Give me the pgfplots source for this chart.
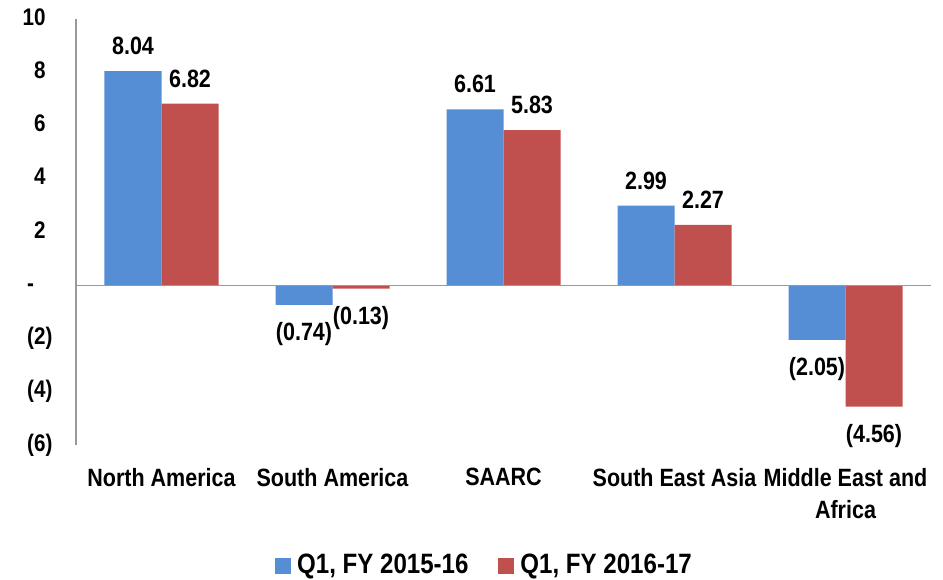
\documentclass[border=0pt]{standalone}
\usepackage{fontspec}
\setmainfont{Liberation Sans}[FakeStretch=0.86]
\usepackage{pgfplots}
\pgfplotsset{compat=1.18}
\definecolor{cblue}{RGB}{85,142,213}
\definecolor{cred}{RGB}{192,80,77}
\begin{document}
\fontsize{25pt}{30pt}\selectfont\bfseries
\begin{tikzpicture}
\path[use as bounding box] (-76pt,-135pt) rectangle (867pt,445pt);
\begin{axis}[
  at={(0pt,0pt)}, anchor=south west,
  scale only axis, width=855pt, height=426pt,
  xmin=-0.5, xmax=4.5, ymin=-6, ymax=10,
  ybar=0pt, bar width=57pt,
  axis lines*=left,
  y axis line style={draw=gray!80, line width=1.2pt, -},
  x axis line style={draw=none},
  xtick={0,1,2,3,4},
  xticklabels={North America, South America, SAARC, South East Asia, {Middle East and\\Africa}},
  xticklabel style={font=\fontsize{25pt}{32pt}\selectfont\bfseries, align=center, anchor=north, yshift=-15pt},
  ytick={-6,-4,-2,0,2,4,6,8,10},
  yticklabels={(6),(4),(2),{-\phantom{0)}},{2\phantom{)}},{4\phantom{)}},{6\phantom{)}},{8\phantom{)}},{10\phantom{)}}},
  major tick length=0pt,
  yticklabel style={font=\fontsize{24pt}{28pt}\selectfont\bfseries, anchor=east, xshift=-15pt},
  point meta=explicit symbolic,
  visualization depends on={ifthenelse(y<0,-29,25) \as \lblshift},
  nodes near coords={\pgfplotspointmeta},
  nodes near coords style={font=\fontsize{25pt}{30pt}\selectfont\bfseries, black, anchor=center, inner sep=0pt},
  every node near coord/.append style={yshift=\lblshift pt},
  legend style={at={(axis description cs:0.5,0)}, anchor=center, yshift=-121pt, xshift=-19pt,
    draw=none, fill=none, legend columns=2, font=\fontsize{28pt}{32pt}\selectfont\bfseries,
    /tikz/every odd column/.append style={column sep=4pt},
    /tikz/every even column/.append style={column sep=28pt}},
  legend image code/.code={\fill[#1,draw=none] (0pt,-8pt) rectangle (16pt,8pt);},
  clip=false,
]
\addplot[fill=cblue, draw=none] coordinates {
  (0,8.04) [8.04]
  (1,-0.74) [(0.74)]
  (2,6.61) [6.61]
  (3,2.99) [2.99]
  (4,-2.05) [(2.05)]
};
\addplot[fill=cred, draw=none] coordinates {
  (0,6.82) [6.82]
  (1,-0.13) [(0.13)]
  (2,5.83) [5.83]
  (3,2.27) [2.27]
  (4,-4.56) [(4.56)]
};
\legend{{Q1, FY 2015-16}, {Q1, FY 2016-17}}
\draw[gray!80, line width=1.2pt] (axis cs:-0.5,0) -- (axis cs:4.5,0);
\end{axis}
\end{tikzpicture}
\end{document}
